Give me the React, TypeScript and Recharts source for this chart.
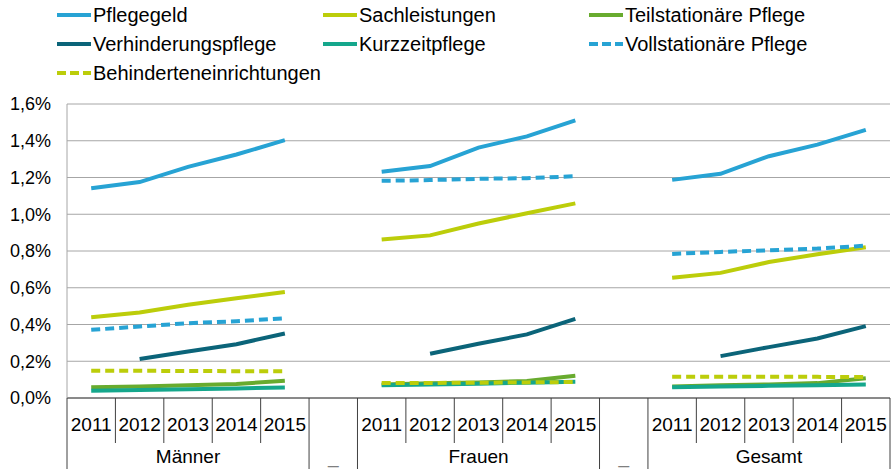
import React from 'react'
import { LineChart, Line, XAxis, YAxis, CartesianGrid } from 'recharts'

const GROUPS = ['Männer', 'Frauen', 'Gesamt']
const YEARS = ['2011', '2012', '2013', '2014', '2015']
const GAP_LABEL = '_'

// values in %, five years per group: Männer | Frauen | Gesamt
const pflegegeld = [1.142, 1.175, 1.258, 1.325, 1.403, 1.231, 1.262, 1.363, 1.424, 1.511, 1.187, 1.22, 1.316, 1.379, 1.459]
const sachleistungen = [0.44, 0.465, 0.507, 0.543, 0.577, 0.862, 0.885, 0.95, 1.005, 1.059, 0.655, 0.681, 0.74, 0.782, 0.82]
const teilstationaer = [0.058, 0.063, 0.069, 0.076, 0.094, 0.074, 0.08, 0.085, 0.092, 0.121, 0.063, 0.069, 0.074, 0.081, 0.107]
const verhinderung = [null, 0.212, 0.253, 0.293, 0.351, null, 0.241, 0.295, 0.346, 0.431, null, 0.228, 0.277, 0.324, 0.391]
const kurzzeit = [0.04, 0.044, 0.048, 0.052, 0.057, 0.069, 0.073, 0.078, 0.083, 0.088, 0.058, 0.062, 0.066, 0.07, 0.074]
const vollstationaer = [0.371, 0.389, 0.407, 0.418, 0.434, 1.182, 1.186, 1.193, 1.196, 1.207, 0.784, 0.795, 0.804, 0.813, 0.829]
const behinderten = [0.148, 0.148, 0.147, 0.146, 0.145, 0.081, 0.082, 0.083, 0.085, 0.087, 0.116, 0.116, 0.115, 0.115, 0.114]

const Y_TICKS = [0, 0.2, 0.4, 0.6, 0.8, 1.0, 1.2, 1.4, 1.6]

const SERIES = [
  { key: 'Pflegegeld', values: pflegegeld, color: '#27a3d4', dash: false },
  { key: 'Sachleistungen', values: sachleistungen, color: '#bccd0a', dash: false },
  { key: 'Teilstationäre Pflege', values: teilstationaer, color: '#68ab2e', dash: false },
  { key: 'Verhinderungspflege', values: verhinderung, color: '#0b6479', dash: false },
  { key: 'Kurzzeitpflege', values: kurzzeit, color: '#15a78c', dash: false },
  { key: 'Vollstationäre Pflege', values: vollstationaer, color: '#27a3d4', dash: true },
  { key: 'Behinderteneinrichtungen', values: behinderten, color: '#bccd0a', dash: true },
]

type Row = Record<string, any>
const rows: Row[] = []
GROUPS.forEach((g, gi) => {
  YEARS.forEach((y, yi) => {
    const row: Row = { key: `${g} ${y}`, year: y, group: g, mid: yi === 2, gap: false }
    SERIES.forEach(s => { row[s.key] = s.values[gi * YEARS.length + yi] })
    rows.push(row)
  })
  if (gi < GROUPS.length - 1) rows.push({ key: `gap${gi}`, year: '', group: GAP_LABEL, mid: true, gap: true })
})

const W = 893
const H = 469
const LEFT = 67
const RIGHT = 3
const BW = (W - LEFT - RIGHT) / rows.length
const FONT = '"Liberation Sans", Arial, sans-serif'

function isLongEdge(i: number) {
  // left edge of category i
  if (i === 0) return true
  return rows[i].gap || rows[i - 1].gap
}

function CategoryTick(props: any) {
  const { x, y, index } = props
  const row = rows[index]
  const left = x - BW / 2
  const right = x + BW / 2
  return (
    <g>
      <line x1={left} x2={left} y1={y} y2={isLongEdge(index) ? H : y + 45} stroke="#404040" strokeWidth={1} />
      {index === rows.length - 1 && (
        <line x1={right} x2={right} y1={y} y2={H} stroke="#404040" strokeWidth={1} />
      )}
      {row.year && (
        <text x={x} y={y + 33} textAnchor="middle" fontSize={19} fontFamily={FONT} fill="#000">{row.year}</text>
      )}
      {row.mid && (
        <text x={x} y={y + 65} textAnchor="middle" fontSize={19} fontFamily={FONT}
              fill={row.gap ? '#7f7f7f' : '#000'}>{row.group}</text>
      )}
    </g>
  )
}

const fmtPct = (v: number) => `${v.toFixed(1).replace('.', ',')}%`

function LegendBox() {
  const cols = [57, 323, 589]
  const rowsY = [15, 44, 73]
  return (
    <div style={{ position: 'absolute', left: 0, top: 0, width: W, height: 90, fontFamily: FONT, fontSize: 20 }}>
      {SERIES.map((s, i) => {
        const cx = cols[i % 3]
        const cy = rowsY[Math.floor(i / 3)]
        return (
          <div key={s.key} style={{ position: 'absolute', left: cx, top: cy - 12, height: 24, display: 'flex', alignItems: 'center', whiteSpace: 'nowrap' }}>
            <svg width={34} height={8} style={{ marginRight: 2 }}>
              <line x1={0} x2={34} y1={4} y2={4} stroke={s.color} strokeWidth={4}
                    strokeDasharray={s.dash ? '9 4' : undefined} />
            </svg>
            <span style={{ color: '#000' }}>{s.key}</span>
          </div>
        )
      })}
    </div>
  )
}

export default function App() {
  return (
    <div style={{ position: 'absolute', left: 0, top: 0, width: W, height: H, background: '#fff' }}>
      <LegendBox />
      <LineChart width={W} height={H} data={rows} margin={{ top: 104, right: RIGHT, left: 0, bottom: 0 }}>
        <CartesianGrid vertical={false} stroke="#a6a6a6" />
        <XAxis dataKey="key" interval={0} height={71} tickSize={0} tickMargin={0}
               padding={{ left: BW / 2, right: BW / 2 }}
               axisLine={{ stroke: '#404040' }} tickLine={false} tick={(p: any) => <CategoryTick {...p} />} />
        <YAxis domain={[0, 1.6]} ticks={Y_TICKS} width={LEFT} tickFormatter={fmtPct}
               tickSize={0} tickMargin={16} axisLine={{ stroke: '#a6a6a6' }} tickLine={false}
               tick={{ fontSize: 18, fill: '#000', fontFamily: FONT }} />
        {SERIES.map(s => (
          <Line key={s.key} type="linear" dataKey={s.key} stroke={s.color} strokeWidth={4}
                strokeDasharray={s.dash ? '9 5' : undefined} dot={false} activeDot={false}
                connectNulls={false} isAnimationActive={false} />
        ))}
      </LineChart>
    </div>
  )
}
